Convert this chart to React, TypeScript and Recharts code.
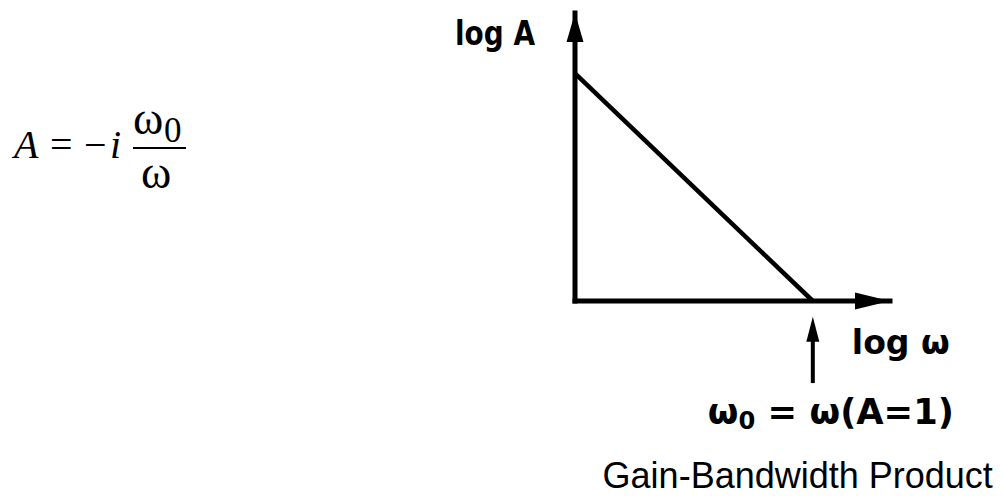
import React from 'react';
import {
  LineChart,
  Line,
  XAxis,
  YAxis,
  ReferenceDot,
  ReferenceLine,
  Customized,
} from 'recharts';

const CHART_W = 1003;
const CHART_H = 496;

// Asymptotic open-loop gain on log-log axes (arbitrary log units)
const logOmega = [0, 7.55];
const logGain = [7.9, 0];
const axisMax = 10;

// Unity-gain frequency marker below the horizontal axis
const unityLogOmega = 7.55;
const markerTop = -0.55;
const markerBottom = -2.85;

// Text
const yAxisTitle = 'log A';
const xAxisTitle = 'log ω';
const unityText = ['ω', '0', ' = ω(A=1)'];
const captionText = 'Gain-Bandwidth Product';

const data = logOmega.map((x, i) => ({ x, y: logGain[i] }));

const HAND = '"DejaVu Sans", sans-serif';
const SERIF = '"Liberation Serif", "Times New Roman", serif';
const SANS = '"Liberation Sans", Arial, sans-serif';

// Arrowhead at the top of the gain axis, with the axis title beside it
const YArrow = (props: any) => {
  const { cx, cy } = props;
  return (
    <g>
      <polygon
        points={`${cx},${cy} ${cx - 8.5},${cy + 29} ${cx + 8.5},${cy + 29}`}
        fill="#000"
      />
      <text
        x={cx - 120}
        y={cy + 32}
        fontFamily={HAND}
        fontWeight={700}
        fontSize={34}
        textLength={80}
        lengthAdjust="spacingAndGlyphs"
        fill="#000"
      >
        {yAxisTitle}
      </text>
    </g>
  );
};

// Arrowhead at the right end of the frequency axis
const XArrow = (props: any) => {
  const { cx, cy } = props;
  return (
    <polygon
      points={`${cx},${cy} ${cx - 35},${cy - 8.5} ${cx - 35},${cy + 8.5}`}
      fill="#000"
    />
  );
};

// Upward arrow pointing at ω0, plus its annotations
const UnityMarker = (props: any) => {
  const { x1, y1, y2 } = props;
  const x = x1;
  const top = Math.min(y1, y2);
  const bottom = Math.max(y1, y2);
  return (
    <g>
      <line x1={x} y1={top + 10} x2={x} y2={bottom} stroke="#000" strokeWidth={4} />
      <polygon
        points={`${x},${top} ${x - 6.5},${top + 25} ${x + 6.5},${top + 25}`}
        fill="#000"
      />
      <text
        x={x + 39}
        y={top + 37}
        fontFamily={HAND}
        fontWeight={700}
        fontSize={34}
        textLength={98}
        lengthAdjust="spacingAndGlyphs"
        fill="#000"
      >
        {xAxisTitle}
      </text>
      <text
        x={x - 105}
        y={top + 107}
        fontFamily={HAND}
        fontWeight={700}
        fontSize={35}
        textLength={246}
        lengthAdjust="spacingAndGlyphs"
        fill="#000"
      >
        {unityText[0]}
        <tspan dy={5} fontSize={24}>
          {unityText[1]}
        </tspan>
        <tspan dy={-5}>{unityText[2]}</tspan>
      </text>
      <text
        x={x + 180}
        y={top + 171}
        textAnchor="end"
        fontFamily={SANS}
        fontSize={36}
        fill="#000"
      >
        {captionText}
      </text>
    </g>
  );
};

// The gain formula A = -i ω0 / ω
const Formula = () => (
  <g fill="#000" fontFamily={SERIF}>
    <text x={14} y={158} fontSize={40} fontStyle="italic">A</text>
    <text x={50} y={158} fontSize={40}>=</text>
    <text x={84} y={158} fontSize={40}>−</text>
    <text x={110} y={158} fontSize={40} fontStyle="italic">i</text>
    <text x={133} y={134} fontSize={46}>ω</text>
    <text x={164} y={142} fontSize={35}>0</text>
    <rect x={133} y={147} width={53} height={2} />
    <text x={141} y={188} fontSize={46}>ω</text>
  </g>
);

export default function App() {
  return (
    <div style={{ position: 'absolute', left: 0, top: 0, background: '#fff' }}>
      <LineChart
        width={CHART_W}
        height={CHART_H}
        data={data}
        margin={{ top: 13, right: 113, bottom: 175, left: 555 }}
      >
        <XAxis
          type="number"
          dataKey="x"
          domain={[0, axisMax]}
          tick={false}
          tickLine={false}
          height={20}
          axisLine={{ stroke: '#000', strokeWidth: 5, strokeLinecap: 'square' }}
        />
        <YAxis
          type="number"
          domain={[0, axisMax]}
          tick={false}
          tickLine={false}
          width={20}
          axisLine={{ stroke: '#000', strokeWidth: 5, strokeLinecap: 'square' }}
        />
        <Line
          type="linear"
          dataKey="y"
          stroke="#000"
          strokeWidth={4.5}
          dot={false}
          activeDot={false}
          isAnimationActive={false}
        />
        <ReferenceDot x={0} y={axisMax} ifOverflow="visible" shape={YArrow} />
        <ReferenceDot x={axisMax} y={0} ifOverflow="visible" shape={XArrow} />
        <ReferenceLine
          segment={[
            { x: unityLogOmega, y: markerTop },
            { x: unityLogOmega, y: markerBottom },
          ]}
          ifOverflow="visible"
          shape={UnityMarker}
        />
        <Customized component={Formula} />
      </LineChart>
    </div>
  );
}
